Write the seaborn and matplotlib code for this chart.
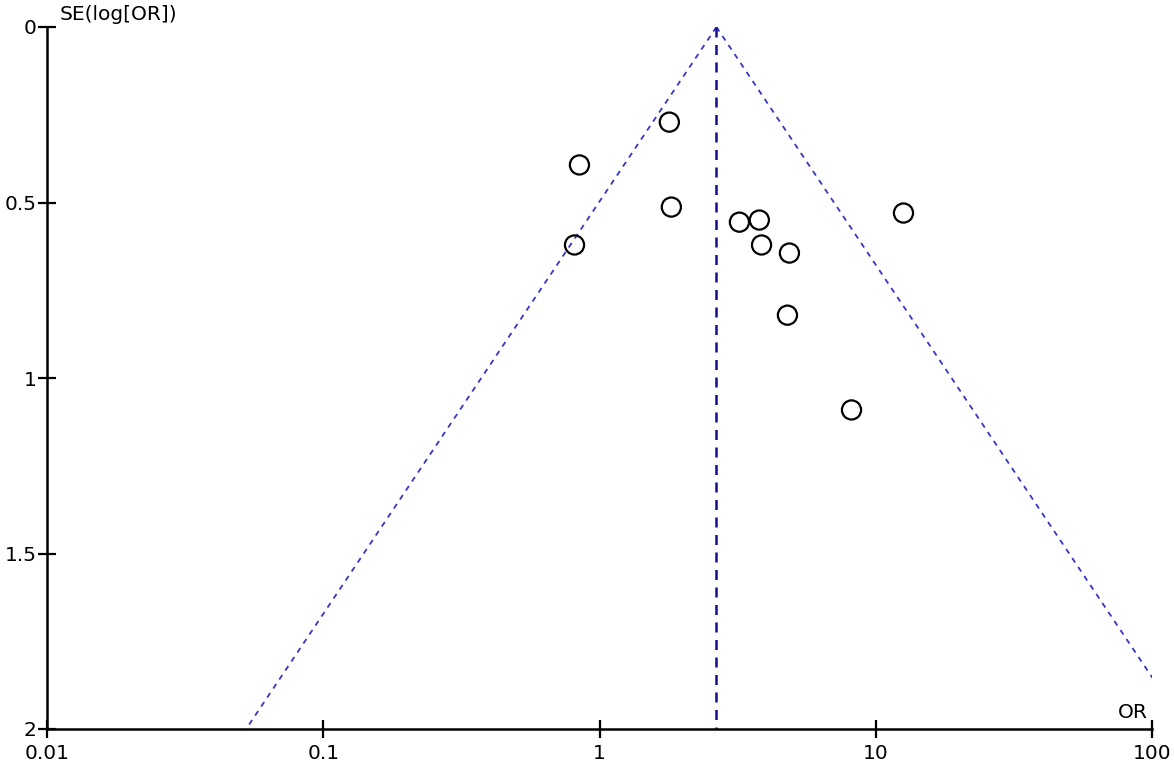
import numpy as np
import pandas as pd
import matplotlib
matplotlib.use("Agg")
import matplotlib.pyplot as plt
import seaborn as sns

# Study data
odds_ratios = [1.79, 0.846, 1.82, 0.812, 3.21, 3.79, 3.86, 4.87, 4.79, 8.17, 12.6]
se_log_or = [0.271, 0.393, 0.513, 0.621, 0.556, 0.550, 0.621, 0.644, 0.821, 1.091, 0.530]
pooled_or = 2.65
x_ticks = [0.01, 0.1, 1, 10, 100]
x_tick_labels = ["0.01", "0.1", "1", "10", "100"]
y_ticks = [0, 0.5, 1, 1.5, 2]
y_tick_labels = ["0", "0.5", "1", "1.5", "2"]

df = pd.DataFrame({"OR": odds_ratios, "SE": se_log_or})

sns.set_style("ticks")
plt.rcParams["font.family"] = ["DejaVu Sans"]

fig = plt.figure(figsize=(11.74, 7.64), dpi=100)
ax = fig.add_axes([47 / 1174, 1 - 729 / 764, (1152 - 47) / 1174, (729 - 27) / 764])

# Funnel (pseudo 95% CI) lines
se_range = np.array([0.0, 2.0])
c = np.log(pooled_or)
ax.plot(np.exp(c - 1.96 * se_range), se_range, color="#3535c8", lw=1.3,
        dashes=(3.0, 3.0), clip_on=True)
ax.plot(np.exp(c + 1.96 * se_range), se_range, color="#3535c8", lw=1.3,
        dashes=(3.0, 3.0), clip_on=True)
ax.plot([pooled_or, pooled_or], se_range, color="#10108f", lw=1.8,
        dashes=(4.0, 3.0))

sns.scatterplot(data=df, x="OR", y="SE", ax=ax, s=190, marker="o",
                facecolor="none", edgecolor="black", linewidth=1.6, zorder=5)

ax.set_xscale("log")
ax.set_xlim(0.01, 100)
ax.set_ylim(2, 0)
ax.set_xticks(x_ticks)
ax.set_xticklabels(x_tick_labels)
ax.set_yticks(y_ticks)
ax.set_yticklabels(y_tick_labels)
ax.minorticks_off()
ax.tick_params(axis="both", direction="inout", length=13, width=1.6,
               colors="black", labelsize=14.5)
ax.tick_params(axis="x", bottom=True, pad=4)
ax.tick_params(axis="y", left=True, pad=1)
ax.set_xlabel("")
ax.set_ylabel("")

for side in ["top", "right"]:
    ax.spines[side].set_visible(False)
for side in ["left", "bottom"]:
    ax.spines[side].set_color("black")
    ax.spines[side].set_linewidth(1.8)

fig.text(60 / 1174, 1 - 15 / 764, "SE(log[OR])", fontsize=14.5, ha="left",
         va="center", color="black")
fig.text(1148 / 1174, 1 - 712 / 764, "OR", fontsize=14.5, ha="right",
         va="center", color="black")

fig.savefig("out.png", dpi=100, facecolor="white")
